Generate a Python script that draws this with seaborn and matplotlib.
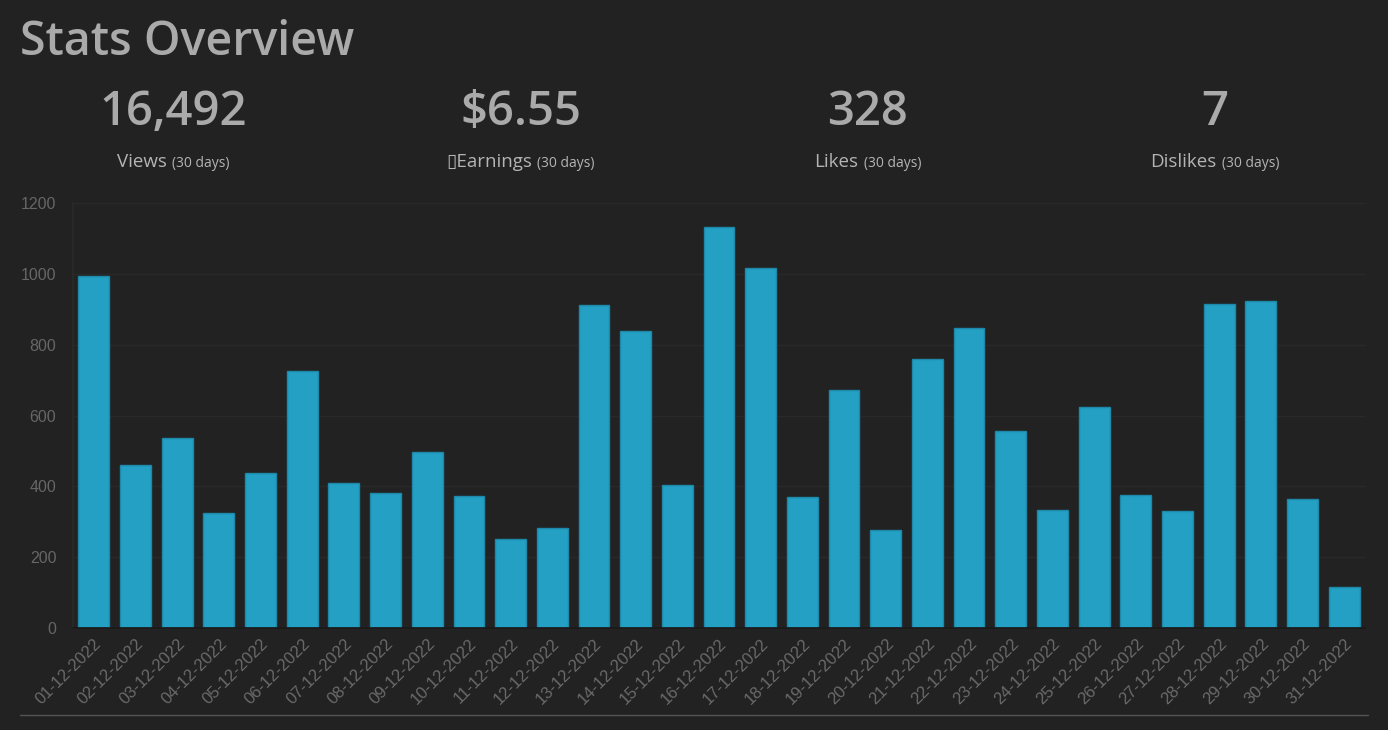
import matplotlib
matplotlib.use("Agg")
import matplotlib.pyplot as plt
from matplotlib.lines import Line2D
from matplotlib.offsetbox import AnnotationBbox, HPacker, TextArea
import pandas as pd
import seaborn as sns


# Daily views
dates = [f"{day:02d}-12-2022" for day in range(1, 32)]
views = [994, 459, 536, 326, 439, 727, 409, 382, 497, 373, 251, 282, 912, 839, 404,
         1132, 1016, 370, 672, 277, 759, 847, 556, 333, 624, 375, 330, 915, 923, 364, 116]
y_ticks = [0, 200, 400, 600, 800, 1000, 1200]

# Summary cards
stat_values = ["16,492", "$6.55", "328", "7"]
stat_names = ["Views", "\u25af" + "Earnings", "Likes", "Dislikes"]
stat_period = "(30 days)"

BG = "#222222"
BAR = "#23a0c3"
TXT = "#aaaaaa"
HEAD_FONT = ["Open Sans", "DejaVu Sans"]

sns.set_theme(style="dark")
plt.rcParams["font.family"] = ["Liberation Sans", "DejaVu Sans"]

W, H = 1388, 730
fig = plt.figure(figsize=(W / 100, H / 100), dpi=100, facecolor=BG)
ax = fig.add_axes([73 / W, 102 / H, 1292 / W, 425 / H], facecolor=BG)

df = pd.DataFrame({"date": dates, "views": views})
sns.barplot(data=df, x="date", y="views", color=BAR, saturation=1, width=0.74,
            edgecolor="#1d88a7", linewidth=1, ax=ax)

ax.set_ylim(0, 1200)
ax.set_yticks(y_ticks)
ax.set_xlabel("")
ax.set_ylabel("")
ax.grid(axis="y", color="#292929", linewidth=1)
ax.grid(axis="x", visible=False)
ax.set_axisbelow(True)
for side in ["top", "right"]:
    ax.spines[side].set_visible(False)
ax.spines["left"].set_color("#292929")
ax.spines["bottom"].set_color("#1a1a1a")
ax.tick_params(axis="y", length=0, pad=12, labelsize=11.5, labelcolor="#666666")
ax.tick_params(axis="x", length=0, pad=6, labelsize=12, labelcolor="#6a6a6a")
plt.setp(ax.get_xticklabels(), rotation=45, ha="right", rotation_mode="anchor")

# Header
fig.text(20 / W, 1 - 55 / H, "Stats Overview", family=HEAD_FONT, weight="semibold",
         fontsize=33.5, color=TXT, va="baseline", ha="left")

col_w = W / 4
for i, (val, name) in enumerate(zip(stat_values, stat_names)):
    cx = col_w * i + col_w / 2
    fig.text(cx / W, 1 - 125 / H, val, family=HEAD_FONT, weight="semibold",
             fontsize=34, color=TXT, va="baseline", ha="center")
    label = HPacker(children=[
        TextArea(name, textprops=dict(family=HEAD_FONT, fontsize=13.5, color="#b4b4b4")),
        TextArea(stat_period, textprops=dict(family=HEAD_FONT, fontsize=10, color="#b4b4b4")),
    ], align="baseline", pad=0, sep=4)
    ab = AnnotationBbox(label, (cx, H - 162), xycoords="figure pixels",
                        box_alignment=(0.5, 0.5), frameon=False)
    fig.add_artist(ab)

# Footer rule
fig.add_artist(Line2D([20 / W, 1368 / W], [1 - 715 / H, 1 - 715 / H],
                      transform=fig.transFigure, color="#555555", linewidth=1))

fig.savefig("out.png", dpi=100, facecolor=BG)
